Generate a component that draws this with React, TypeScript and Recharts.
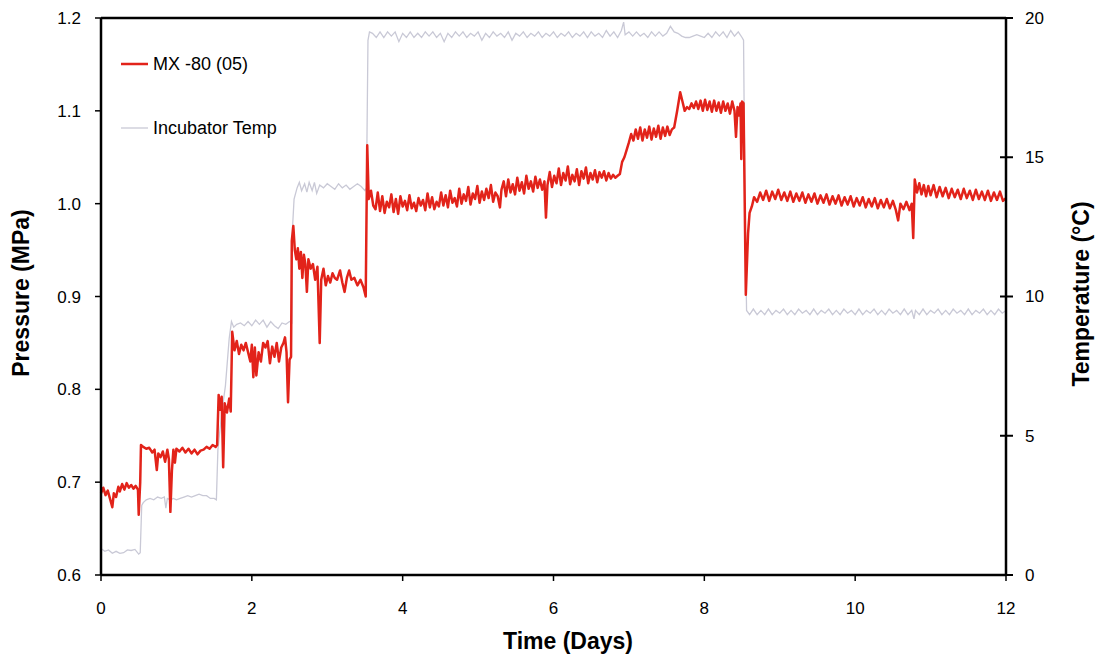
import { LineChart, Line, XAxis, YAxis, ReferenceLine } from 'recharts';

// Tiempo (días) y presión (MPa)
const pressurePoints: [number, number][] = [
  [0.0, 0.688], [0.03, 0.694], [0.06, 0.686], [0.09, 0.691], [0.12, 0.682], [0.15, 0.673], [0.17, 0.688], [0.2, 0.684],
  [0.23, 0.695], [0.25, 0.69], [0.28, 0.698], [0.31, 0.692], [0.34, 0.699], [0.37, 0.694], [0.4, 0.697], [0.43, 0.693],
  [0.46, 0.696], [0.49, 0.692], [0.5, 0.665], [0.52, 0.7], [0.53, 0.74],
  [0.56, 0.738], [0.6, 0.736], [0.64, 0.737], [0.68, 0.732], [0.71, 0.735], [0.74, 0.713], [0.76, 0.731], [0.79, 0.727],
  [0.82, 0.733], [0.85, 0.722], [0.88, 0.735], [0.9, 0.725], [0.92, 0.668], [0.94, 0.712], [0.96, 0.735], [0.98, 0.721],
  [1.0, 0.736], [1.04, 0.733], [1.08, 0.737], [1.12, 0.732], [1.16, 0.736], [1.2, 0.731], [1.24, 0.735], [1.28, 0.73],
  [1.32, 0.734], [1.36, 0.735], [1.4, 0.738], [1.44, 0.736], [1.48, 0.74], [1.52, 0.738], [1.54, 0.74],
  [1.56, 0.794], [1.58, 0.778], [1.6, 0.792], [1.62, 0.716], [1.64, 0.785], [1.67, 0.775], [1.7, 0.79], [1.72, 0.776], [1.74, 0.862],
  [1.77, 0.842], [1.8, 0.852], [1.83, 0.838], [1.86, 0.848], [1.89, 0.842], [1.92, 0.85], [1.95, 0.84], [1.98, 0.83],
  [2.0, 0.848], [2.02, 0.813], [2.04, 0.845], [2.06, 0.815], [2.09, 0.84], [2.12, 0.83], [2.15, 0.85], [2.18, 0.845],
  [2.21, 0.852], [2.24, 0.828], [2.27, 0.846], [2.3, 0.835], [2.33, 0.85], [2.36, 0.83], [2.39, 0.845], [2.42, 0.85],
  [2.44, 0.856], [2.46, 0.84], [2.48, 0.786], [2.5, 0.832], [2.52, 0.835], [2.53, 0.96],
  [2.55, 0.976], [2.57, 0.95], [2.59, 0.94], [2.61, 0.952], [2.63, 0.93], [2.65, 0.948], [2.67, 0.92], [2.69, 0.945],
  [2.71, 0.935], [2.73, 0.905], [2.75, 0.94], [2.78, 0.93], [2.81, 0.935], [2.84, 0.918], [2.87, 0.932], [2.9, 0.85],
  [2.92, 0.918], [2.95, 0.93], [2.98, 0.912], [3.01, 0.922], [3.04, 0.915], [3.07, 0.925], [3.1, 0.92], [3.13, 0.918],
  [3.17, 0.928], [3.2, 0.915], [3.23, 0.905], [3.26, 0.92], [3.29, 0.928], [3.32, 0.918], [3.36, 0.92], [3.4, 0.912],
  [3.44, 0.918], [3.48, 0.91], [3.51, 0.9], [3.53, 1.063],
  [3.55, 1.005], [3.58, 1.014], [3.61, 0.998], [3.64, 0.994], [3.67, 1.012], [3.7, 0.992], [3.73, 1.008], [3.76, 0.99],
  [3.79, 1.002], [3.82, 0.996], [3.85, 1.01], [3.88, 0.991], [3.91, 1.005], [3.94, 0.989], [3.97, 1.008], [4.0, 0.997],
  [4.03, 1.003], [4.06, 0.993], [4.09, 1.009], [4.12, 0.995], [4.15, 1.001], [4.18, 0.992], [4.21, 1.006], [4.24, 0.998],
  [4.27, 1.004], [4.3, 0.993], [4.33, 1.011], [4.36, 0.996], [4.39, 1.007], [4.42, 0.994], [4.45, 1.002], [4.48, 0.997],
  [4.51, 1.012], [4.54, 0.998], [4.57, 1.009], [4.6, 0.996], [4.63, 1.014], [4.66, 1.001], [4.69, 1.006], [4.72, 0.997],
  [4.75, 1.016], [4.78, 1.0], [4.81, 1.01], [4.84, 1.003], [4.87, 1.018], [4.9, 0.999], [4.93, 1.011], [4.96, 1.005],
  [4.99, 1.019], [5.02, 1.001], [5.05, 1.013], [5.08, 1.004], [5.11, 1.016], [5.14, 1.006], [5.17, 1.02], [5.2, 1.002],
  [5.23, 1.012], [5.26, 1.008], [5.29, 0.996], [5.31, 1.015],
  [5.34, 1.024], [5.37, 1.008], [5.4, 1.026], [5.43, 1.012], [5.46, 1.021], [5.49, 1.01], [5.52, 1.028], [5.55, 1.014],
  [5.58, 1.023], [5.61, 1.011], [5.64, 1.03], [5.67, 1.016], [5.7, 1.024], [5.73, 1.013], [5.76, 1.029], [5.79, 1.017],
  [5.82, 1.026], [5.85, 1.015], [5.88, 1.024], [5.9, 0.985], [5.92, 1.02],
  [5.95, 1.034], [5.98, 1.018], [6.01, 1.03], [6.04, 1.022], [6.07, 1.038], [6.1, 1.02], [6.13, 1.033], [6.16, 1.025],
  [6.19, 1.04], [6.22, 1.021], [6.25, 1.031], [6.28, 1.024], [6.31, 1.037], [6.34, 1.02], [6.37, 1.035], [6.4, 1.027],
  [6.43, 1.039], [6.46, 1.022], [6.49, 1.033], [6.52, 1.026], [6.55, 1.036], [6.58, 1.023], [6.61, 1.034], [6.64, 1.028],
  [6.67, 1.035], [6.7, 1.025], [6.73, 1.033], [6.76, 1.027], [6.79, 1.031], [6.82, 1.028], [6.85, 1.03], [6.88, 1.032],
  [6.91, 1.045], [6.94, 1.05], [6.97, 1.058], [7.0, 1.066], [7.03, 1.075], [7.06, 1.068], [7.09, 1.08], [7.12, 1.07],
  [7.15, 1.082], [7.18, 1.068], [7.21, 1.08], [7.24, 1.071], [7.27, 1.083], [7.3, 1.069], [7.33, 1.081], [7.36, 1.072],
  [7.39, 1.084], [7.42, 1.07], [7.45, 1.082], [7.48, 1.073], [7.51, 1.083], [7.54, 1.074], [7.57, 1.08], [7.6, 1.082],
  [7.64, 1.1], [7.68, 1.12], [7.71, 1.11], [7.74, 1.1], [7.77, 1.104], [7.8, 1.102], [7.83, 1.108], [7.86, 1.103],
  [7.89, 1.11], [7.92, 1.102], [7.95, 1.111], [7.98, 1.1], [8.01, 1.112], [8.04, 1.101], [8.07, 1.11], [8.1, 1.099],
  [8.13, 1.111], [8.16, 1.1], [8.19, 1.109], [8.22, 1.098], [8.25, 1.11], [8.28, 1.1], [8.31, 1.108], [8.34, 1.097],
  [8.37, 1.11], [8.4, 1.1], [8.42, 1.072], [8.44, 1.104], [8.46, 1.095], [8.48, 1.108], [8.49, 1.048], [8.5, 1.11],
  [8.52, 1.108], [8.55, 0.902], [8.58, 0.968], [8.6, 0.99], [8.63, 0.997], [8.66, 1.007],
  [8.7, 1.002], [8.74, 1.012], [8.78, 1.004], [8.82, 1.014], [8.86, 1.003], [8.9, 1.013], [8.94, 1.005], [8.98, 1.015],
  [9.02, 1.004], [9.06, 1.012], [9.1, 1.003], [9.14, 1.013], [9.18, 1.002], [9.22, 1.011], [9.26, 1.003], [9.3, 1.012],
  [9.34, 1.001], [9.38, 1.01], [9.42, 1.002], [9.46, 1.011], [9.5, 1.0], [9.54, 1.009], [9.58, 1.001], [9.62, 1.01],
  [9.66, 0.999], [9.7, 1.008], [9.74, 1.0], [9.78, 1.009], [9.82, 0.998], [9.86, 1.007], [9.9, 0.999], [9.94, 1.008],
  [9.98, 0.997], [10.02, 1.006], [10.06, 0.998], [10.1, 1.007], [10.14, 0.996], [10.18, 1.005], [10.22, 0.997], [10.26, 1.006],
  [10.3, 0.995], [10.34, 1.004], [10.38, 0.996], [10.42, 1.005], [10.46, 0.995], [10.5, 1.003], [10.54, 0.993], [10.57, 0.982],
  [10.6, 1.0], [10.64, 0.994], [10.68, 1.002], [10.72, 0.993], [10.75, 1.0], [10.77, 0.963], [10.79, 1.026],
  [10.82, 1.012], [10.85, 1.022], [10.88, 1.01], [10.91, 1.02], [10.94, 1.008], [10.97, 1.019], [11.0, 1.009], [11.04, 1.02],
  [11.08, 1.007], [11.12, 1.018], [11.16, 1.008], [11.2, 1.017], [11.24, 1.006], [11.28, 1.016], [11.32, 1.007], [11.36, 1.015],
  [11.4, 1.005], [11.44, 1.016], [11.48, 1.006], [11.52, 1.014], [11.56, 1.004], [11.6, 1.015], [11.64, 1.005], [11.68, 1.013],
  [11.72, 1.004], [11.76, 1.014], [11.8, 1.003], [11.84, 1.012], [11.88, 1.004], [11.92, 1.013], [11.96, 1.003], [12.0, 1.006],
];

// Tiempo (días) y temperatura de la incubadora (°C)
const temperaturePoints: [number, number][] = [
  [0.0, 0.95], [0.05, 0.85], [0.1, 0.9], [0.15, 0.78], [0.2, 0.85], [0.25, 0.78], [0.3, 0.8], [0.35, 0.9], [0.4, 0.88],
  [0.45, 0.92], [0.5, 0.75], [0.52, 0.8], [0.54, 2.5], [0.56, 2.6],
  [0.6, 2.7], [0.65, 2.75], [0.7, 2.7], [0.75, 2.8], [0.8, 2.75], [0.84, 2.8], [0.86, 2.4], [0.88, 2.75], [0.92, 2.7],
  [0.96, 2.75], [1.0, 2.7], [1.05, 2.75], [1.1, 2.8], [1.15, 2.85], [1.2, 2.8], [1.25, 2.85], [1.3, 2.9], [1.35, 2.85],
  [1.4, 2.85], [1.45, 2.75], [1.5, 2.75], [1.53, 2.7],
  [1.55, 4.5], [1.6, 5.8], [1.65, 6.8], [1.7, 8.5], [1.73, 9.1], [1.76, 8.9], [1.8, 9.0], [1.85, 9.05], [1.9, 8.95],
  [1.95, 9.1], [2.0, 8.95], [2.05, 9.15], [2.1, 9.0], [2.15, 9.15], [2.2, 8.9], [2.25, 9.1], [2.3, 8.95], [2.35, 8.85],
  [2.4, 9.05], [2.45, 9.0], [2.5, 9.1], [2.53, 9.05],
  [2.54, 12.5], [2.56, 13.5], [2.6, 13.9], [2.63, 14.1], [2.66, 13.8], [2.7, 14.05], [2.73, 13.75], [2.76, 14.1], [2.8, 13.8],
  [2.83, 14.1], [2.86, 13.7], [2.9, 14.0], [2.95, 13.9], [3.0, 14.05], [3.05, 13.95], [3.1, 13.85], [3.15, 14.05], [3.2, 13.9],
  [3.25, 14.0], [3.3, 13.85], [3.35, 13.95], [3.4, 14.05], [3.45, 13.95], [3.5, 13.8], [3.52, 13.9],
  [3.54, 19.2], [3.56, 19.5], [3.6, 19.45], [3.65, 19.3], [3.7, 19.5], [3.75, 19.3], [3.8, 19.5], [3.85, 19.35], [3.9, 19.5],
  [3.95, 19.15], [4.0, 19.45], [4.05, 19.3], [4.1, 19.5], [4.15, 19.3], [4.2, 19.45], [4.25, 19.3], [4.3, 19.5], [4.35, 19.35],
  [4.4, 19.5], [4.45, 19.3], [4.5, 19.45], [4.55, 19.15], [4.6, 19.45], [4.65, 19.3], [4.7, 19.5], [4.75, 19.35], [4.8, 19.5],
  [4.85, 19.3], [4.9, 19.45], [4.95, 19.35], [5.0, 19.5], [5.05, 19.2], [5.1, 19.45], [5.15, 19.3], [5.2, 19.5], [5.25, 19.35],
  [5.3, 19.45], [5.35, 19.3], [5.4, 19.5], [5.45, 19.2], [5.5, 19.45], [5.55, 19.35], [5.6, 19.5], [5.65, 19.3], [5.7, 19.45],
  [5.75, 19.35], [5.8, 19.5], [5.85, 19.3], [5.9, 19.45], [5.95, 19.35], [6.0, 19.5], [6.05, 19.3], [6.1, 19.45], [6.15, 19.35],
  [6.2, 19.5], [6.25, 19.3], [6.3, 19.45], [6.35, 19.35], [6.4, 19.5], [6.45, 19.3], [6.5, 19.5], [6.55, 19.35], [6.6, 19.45],
  [6.65, 19.3], [6.7, 19.55], [6.75, 19.35], [6.8, 19.5], [6.85, 19.3], [6.9, 19.55], [6.93, 19.85], [6.95, 19.4], [7.0, 19.5],
  [7.05, 19.35], [7.1, 19.5], [7.15, 19.35], [7.2, 19.45], [7.25, 19.3], [7.3, 19.5], [7.35, 19.35], [7.4, 19.5], [7.45, 19.35],
  [7.5, 19.45], [7.55, 19.7], [7.6, 19.5], [7.65, 19.45], [7.7, 19.35], [7.75, 19.3], [7.8, 19.3], [7.85, 19.35], [7.9, 19.4],
  [7.95, 19.35], [8.0, 19.3], [8.05, 19.45], [8.1, 19.3], [8.15, 19.5], [8.2, 19.35], [8.25, 19.5], [8.3, 19.3], [8.35, 19.55],
  [8.4, 19.35], [8.45, 19.5], [8.5, 19.3], [8.52, 19.2], [8.54, 13.0], [8.56, 9.5],
  [8.6, 9.35], [8.65, 9.55], [8.7, 9.35], [8.75, 9.5], [8.8, 9.35], [8.85, 9.55], [8.9, 9.35], [8.95, 9.5], [9.0, 9.4],
  [9.05, 9.55], [9.1, 9.35], [9.15, 9.5], [9.2, 9.35], [9.25, 9.55], [9.3, 9.4], [9.35, 9.5], [9.4, 9.35], [9.45, 9.55],
  [9.5, 9.35], [9.55, 9.5], [9.6, 9.4], [9.65, 9.55], [9.7, 9.35], [9.75, 9.5], [9.8, 9.35], [9.85, 9.55], [9.9, 9.4],
  [9.95, 9.5], [10.0, 9.35], [10.05, 9.55], [10.1, 9.35], [10.15, 9.5], [10.2, 9.4], [10.25, 9.55], [10.3, 9.35], [10.35, 9.5],
  [10.4, 9.35], [10.45, 9.55], [10.5, 9.4], [10.55, 9.5], [10.6, 9.35], [10.65, 9.55], [10.7, 9.35], [10.75, 9.5], [10.78, 9.2],
  [10.8, 9.5], [10.85, 9.35], [10.9, 9.55], [10.95, 9.35], [11.0, 9.5], [11.05, 9.4], [11.1, 9.55], [11.15, 9.35], [11.2, 9.5],
  [11.25, 9.35], [11.3, 9.55], [11.35, 9.4], [11.4, 9.5], [11.45, 9.35], [11.5, 9.55], [11.55, 9.35], [11.6, 9.5], [11.65, 9.4],
  [11.7, 9.55], [11.75, 9.35], [11.8, 9.5], [11.85, 9.35], [11.9, 9.55], [11.95, 9.4], [12.0, 9.5],
];

const timeTicks = [0, 2, 4, 6, 8, 10, 12];
const pressureTicks = [0.6, 0.7, 0.8, 0.9, 1.0, 1.1, 1.2];
const temperatureTicks = [0, 5, 10, 15, 20];

const seriesNames = ['MX -80 (05)', 'Incubator Temp'];
const seriesColors = ['#e2231a', '#c9c9d6'];

const FONT = '"Liberation Sans", Arial, sans-serif';

const pressureData = pressurePoints.map(([t, v]) => ({ t, v }));
const temperatureData = temperaturePoints.map(([t, v]) => ({ t, v }));

// Ticks del eje derecho: cruzan la línea del eje
const RightTick = ({ y, payload }: any) => (
  <g>
    <line x1={1000} x2={1013} y1={y} y2={y} stroke="#000" strokeWidth={2} />
    <text x={1025} y={y} dy="0.35em" fontSize={17} fontFamily={FONT} fill="#000">
      {payload.value}
    </text>
  </g>
);

export default function App() {
  return (
    <div style={{ position: 'relative', width: 1100, height: 657, background: '#fff' }}>
      <style>{`body{margin:0}`}</style>
      <LineChart width={1100} height={657} margin={{ top: 18, right: 0, left: 0, bottom: 0 }}>
        <XAxis
          dataKey="t"
          type="number"
          domain={[0, 12]}
          ticks={timeTicks}
          allowDuplicatedCategory={false}
          height={82}
          axisLine={{ stroke: '#000', strokeWidth: 2.5 }}
          tickLine={{ stroke: '#000', strokeWidth: 1.5 }}
          tickSize={6}
          tickMargin={21}
          tick={{ fontSize: 17, fill: '#000', fontFamily: FONT }}
        />
        <YAxis
          yAxisId="p"
          domain={[0.6, 1.2]}
          ticks={pressureTicks}
          width={101}
          tickFormatter={(v) => v.toFixed(1)}
          axisLine={{ stroke: '#000', strokeWidth: 2.5 }}
          tickLine={{ stroke: '#000', strokeWidth: 1.5 }}
          tickSize={6}
          tickMargin={14}
          tick={{ fontSize: 17, fill: '#000', fontFamily: FONT }}
        />
        <YAxis
          yAxisId="temp"
          orientation="right"
          domain={[0, 20]}
          ticks={temperatureTicks}
          width={94}
          axisLine={{ stroke: '#000', strokeWidth: 2.5 }}
          tickLine={false}
          tick={<RightTick />}
        />
        <ReferenceLine yAxisId="p" y={1.2} stroke="#000" strokeWidth={2.5} />
        <Line
          yAxisId="temp"
          data={temperatureData}
          dataKey="v"
          type="linear"
          stroke={seriesColors[1]}
          strokeWidth={1.3}
          dot={false}
          isAnimationActive={false}
        />
        <Line
          yAxisId="p"
          data={pressureData}
          dataKey="v"
          type="linear"
          stroke={seriesColors[0]}
          strokeWidth={2.5}
          strokeLinejoin="round"
          dot={false}
          isAnimationActive={false}
        />
      </LineChart>
      <svg
        width={1100}
        height={657}
        style={{ position: 'absolute', left: 0, top: 0, pointerEvents: 'none' }}
        fontFamily={FONT}
      >
        {/* Leyenda */}
        <line x1={121} x2={148} y1={64} y2={64} stroke={seriesColors[0]} strokeWidth={2.5} />
        <text x={153} y={64} dy="0.35em" fontSize={18} fill="#000">{seriesNames[0]}</text>
        <line x1={121} x2={148} y1={128} y2={128} stroke={seriesColors[1]} strokeWidth={1.3} />
        <text x={153} y={128} dy="0.35em" fontSize={18} fill="#000">{seriesNames[1]}</text>
        {/* Títulos de ejes */}
        <text x={568} y={641} dy="0.35em" textAnchor="middle" fontSize={23} fontWeight="bold" fill="#000">
          Time (Days)
        </text>
        <text
          x={21}
          y={293}
          dy="0.35em"
          textAnchor="middle"
          fontSize={23}
          fontWeight="bold"
          fill="#000"
          transform="rotate(-90 21 293)"
        >
          Pressure (MPa)
        </text>
        <text
          x={1081}
          y={294}
          dy="0.35em"
          textAnchor="middle"
          fontSize={23}
          fontWeight="bold"
          fill="#000"
          transform="rotate(-90 1081 294)"
        >
          Temperature (°C)
        </text>
      </svg>
    </div>
  );
}
